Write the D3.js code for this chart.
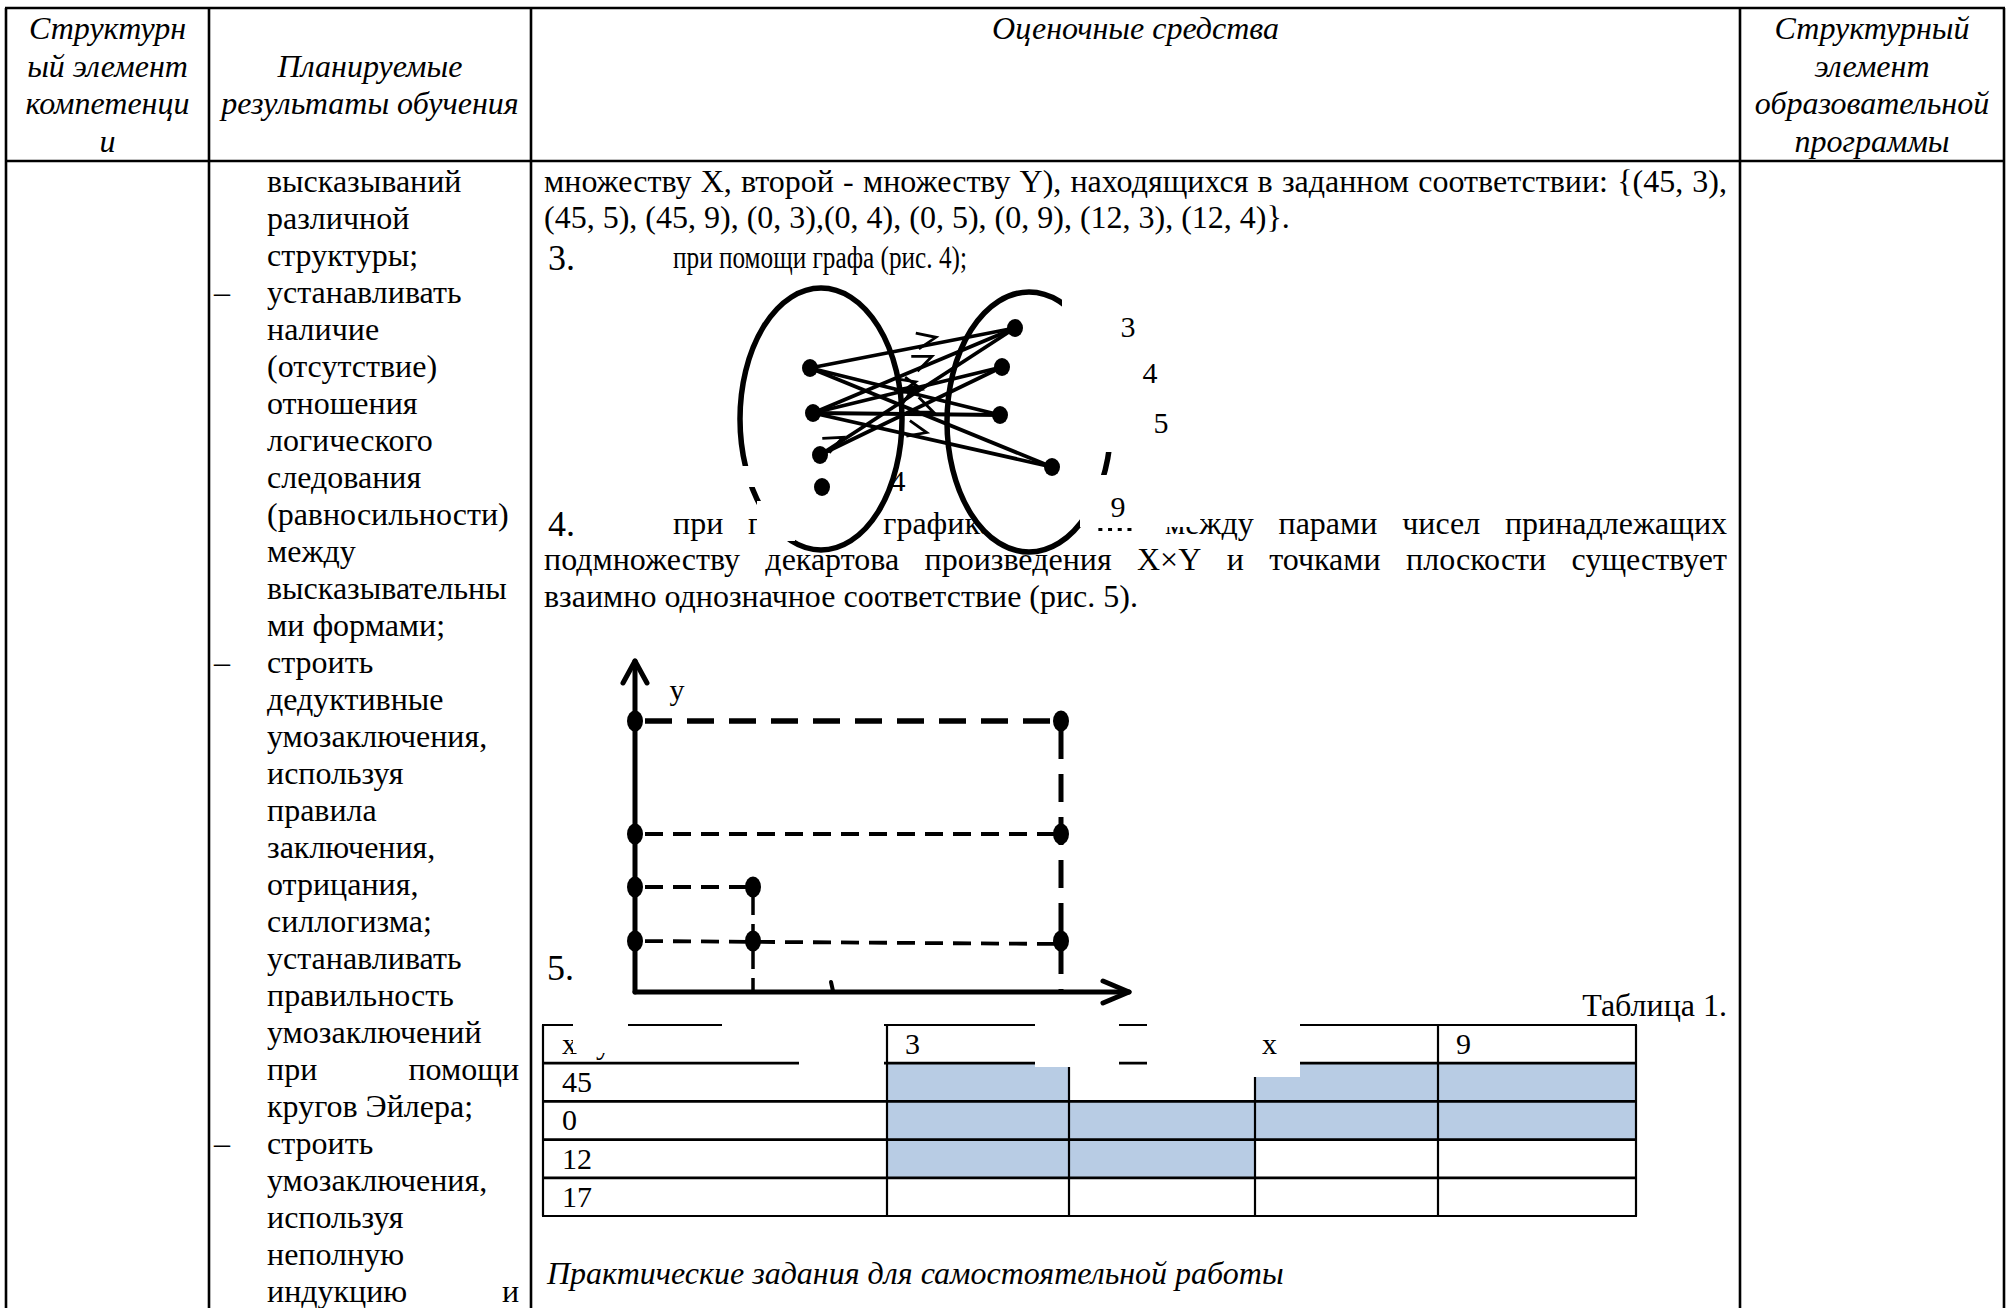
<!DOCTYPE html>
<html><head><meta charset="utf-8">
<script src="https://cdn.jsdelivr.net/npm/d3@7/dist/d3.min.js"></script>
<style>html,body{margin:0;padding:0;background:#fff;}svg{display:block}</style>
</head><body>
<svg id="c" width="2013" height="1308"></svg>
<script>
// ---------------- DATA ----------------
const headerCol1 = ["Структурн", "ый элемент", "компетенци", "и"];
const headerCol2 = ["Планируемые", "результаты обучения"];
const headerCol3 = ["Оценочные средства"];
const headerCol4 = ["Структурный", "элемент", "образовательной", "программы"];
const skillLines = [
  "высказываний", "различной", "структуры;", "–|устанавливать", "наличие", "(отсутствие)",
  "отношения", "логического", "следования", "(равносильности)", "между", "высказывательны",
  "ми формами;", "–|строить", "дедуктивные", "умозаключения,", "используя", "правила",
  "заключения,", "отрицания,", "силлогизма;", "устанавливать", "правильность", "умозаключений",
  "=при помощи", "кругов Эйлера;", "–|строить", "умозаключения,", "используя", "неполную",
  "=индукцию и"
];
const para1 = "множеству X, второй - множеству Y), находящихся в заданном соответствии: {(45, 3),";
const para2 = "(45, 5), (45, 9), (0, 3),(0, 4), (0, 5), (0, 9), (12, 3), (12, 4)}.";
const item3 = ["3.", "при помощи графа (рис. 4);"];
const item4 = ["4.", "при помощи графика, так как между парами чисел принадлежащих"];
const hiddenWord4 = "как";
const para4b = "подмножеству декартова произведения X×Y и точками плоскости существует";
const para4c = "взаимно однозначное соответствие (рис. 5).";
const item5 = "5.";
const setX = [45, 0, 12, 17];
const setY = [3, 4, 5, 9];
const relation = [[45,3],[45,5],[45,9],[0,3],[0,4],[0,5],[0,9],[12,3],[12,4]];
const graphYLabels = ["3", "4", "5", "9"];
const graphXLabel = "4";
const axisYLabel = "y";
const axisXLabel = "x";
const tableCaption = "Таблица 1.";
const tableCorner = ["x", "y"];
const tableRowLabels = ["45", "0", "12", "17"];
const tableColLabels = ["3", "4", "5", "9"];
const footer = "Практические задания для самостоятельной работы";

// ---------------- LAYOUT ----------------
const W = 2013, H = 1308;
const FONT = "'Liberation Serif','Times New Roman',serif";
const svg = d3.select("#c");
svg.append("rect").attr("width", W).attr("height", H).attr("fill", "#fff");

function txt(g, s, x, y, o = {}) {
  const t = g.append("text").attr("x", x).attr("y", y).text(s)
    .attr("font-family", FONT).attr("font-size", o.fs || 32)
    .attr("font-style", o.it ? "italic" : "normal")
    .attr("text-anchor", o.anchor || "start").attr("fill", "#000");
  if (o.len) t.attr("textLength", o.len).attr("lengthAdjust", "spacingAndGlyphs");
  return t;
}
function justify(g, s, x0, x1, y, o = {}) {
  const words = s.split(" ");
  const nodes = words.map(w => txt(g, w, 0, y, o));
  const widths = nodes.map(n => n.node().getComputedTextLength());
  const total = d3.sum(widths);
  const gap = words.length > 1 ? (x1 - x0 - total) / (words.length - 1) : 0;
  let x = x0;
  const out = [];
  nodes.forEach((n, i) => { n.attr("x", x); out.push({ w: words[i], x, width: widths[i], node: n }); x += widths[i] + gap; });
  return out;
}

// frame
const frameX = d3.scaleOrdinal().domain([0,1,2,3,4]).range([6, 209, 531, 1740, 2004]);
const topY = 8, headY = 161;
const frame = svg.append("g").attr("stroke", "#000").attr("stroke-width", 2.6);
frame.append("line").attr("x1", frameX(0) - 1).attr("x2", frameX(4) + 1).attr("y1", topY).attr("y2", topY);
frame.append("line").attr("x1", frameX(0)).attr("x2", frameX(4)).attr("y1", headY).attr("y2", headY);
frame.selectAll("line.v").data([0,1,2,3,4]).enter().append("line").attr("class", "v")
  .attr("x1", d => frameX(d)).attr("x2", d => frameX(d)).attr("y1", topY).attr("y2", H);

// header
const hdr = svg.append("g");
const hLine = d3.scaleLinear().domain([0, 1]).range([39, 76.5]);
headerCol1.forEach((s, i) => txt(hdr, s, (frameX(0) + frameX(1)) / 2, hLine(i), { it: 1, anchor: "middle" }));
headerCol2.forEach((s, i) => txt(hdr, s, (frameX(1) + frameX(2)) / 2, hLine(i + 1), { it: 1, anchor: "middle" }));
headerCol3.forEach((s, i) => txt(hdr, s, (frameX(2) + frameX(3)) / 2, hLine(i), { it: 1, anchor: "middle" }));
headerCol4.forEach((s, i) => txt(hdr, s, (frameX(3) + frameX(4)) / 2, hLine(i), { it: 1, anchor: "middle" }));

// left column
const lc = svg.append("g");
const lineY = d3.scaleLinear().domain([0, 1]).range([192, 229]);
skillLines.forEach((s, i) => {
  const y = lineY(i);
  if (s.startsWith("–|")) { txt(lc, "–", 214, y); txt(lc, s.slice(2), 267, y); }
  else if (s.startsWith("=")) { justify(lc, s.slice(1), 267, 519, y); }
  else txt(lc, s, 267, y);
});

// middle column text
const mc = svg.append("g");
justify(mc, para1, 544, 1727, 192);
txt(mc, para2, 544, 228);
txt(mc, item3[0], 548, 270, { fs: 36 });
txt(mc, item3[1], 673, 268, { len: 294 });
txt(mc, item4[0], 548, 536, { fs: 36 });
const w4 = justify(mc, item4[1], 673, 1727, 534);
// the word mostly hidden under the label box: keep only its bottom sliver as marks
const hid = w4.filter(d => d.w === hiddenWord4).pop();
let hidBox = null;
if (hid) { hid.node.remove(); hidBox = { x: hid.x, w: hid.width }; }
justify(mc, para4b, 544, 1727, 570);
txt(mc, para4c, 544, 607);

// ---------------- FIGURE 4 (graph) ----------------
const g4 = svg.append("g");
const lx = d3.scaleOrdinal().domain(setX).range([810, 813, 820, 822]);
const ly = d3.scaleOrdinal().domain(setX).range([368, 413, 455, 487]);
const rx = d3.scaleOrdinal().domain(setY).range([1015, 1002, 1000, 1052]);
const ry = d3.scaleOrdinal().domain(setY).range([328, 367, 415, 467]);
const ellipses = [{ cx: 821, cy: 419, rx: 81, ry: 131 }, { cx: 1029, cy: 422, rx: 82, ry: 130 }];
g4.selectAll("ellipse.set").data(ellipses).enter().append("ellipse").attr("class", "set")
  .attr("cx", d => d.cx).attr("cy", d => d.cy).attr("rx", d => d.rx).attr("ry", d => d.ry)
  .attr("fill", "#fff").attr("stroke", "#000").attr("stroke-width", 5.5);
[[726, 466, 34, 21], [757, 501, 38, 40]].forEach(r =>
  g4.append("rect").attr("x", r[0]).attr("y", r[1]).attr("width", r[2]).attr("height", r[3]).attr("fill", "#fff"));
const chevT = { "45-3": 0.62, "0-3": 0.6, "12-3": 0.5, "45-5": 0.58, "45-9": 0.5, "0-4": 0.55, "0-9": 0.47, "12-4": 0.14, "0-5": null };
relation.forEach(([a, b]) => {
  const x1 = lx(a), y1 = ly(a), x2 = rx(b), y2 = ry(b);
  g4.append("line").attr("x1", x1).attr("y1", y1).attr("x2", x2).attr("y2", y2)
    .attr("stroke", "#000").attr("stroke-width", 3.8);
  const t = chevT[a + "-" + b];
  if (t != null) {
    const px = x1 + t * (x2 - x1), py = y1 + t * (y2 - y1);
    const L = Math.hypot(x2 - x1, y2 - y1), ux = (x2 - x1) / L, uy = (y2 - y1) / L;
    const ox = -uy, oy = ux, back = 19, wing = 8, sh = -6;
    const cx = px + ox * sh, cy = py + oy * sh;
    g4.append("path").attr("d",
      `M${cx - back * ux + wing * ox},${cy - back * uy + wing * oy}L${cx},${cy}L${cx - back * ux - wing * ox},${cy - back * uy - wing * oy}`)
      .attr("fill", "none").attr("stroke", "#000").attr("stroke-width", 2.8);
  }
});
setX.forEach(a => g4.append("ellipse").attr("cx", lx(a)).attr("cy", ly(a)).attr("rx", 8).attr("ry", 9).attr("fill", "#000"));
setY.forEach(b => g4.append("ellipse").attr("cx", rx(b)).attr("cy", ry(b)).attr("rx", 8).attr("ry", 9).attr("fill", "#000"));
[[1062, 284, 140, 168], [1080, 475, 120, 52]].forEach(r =>
  g4.append("rect").attr("x", r[0]).attr("y", r[1]).attr("width", r[2]).attr("height", r[3]).attr("fill", "#fff"));
if (hidBox) {
  d3.range(4).forEach(k => g4.append("rect").attr("x", hidBox.x + 3 + k * (hidBox.w - 6) / 4).attr("y", 528)
    .attr("width", 4).attr("height", 3).attr("fill", "#000"));
}
const labX = d3.scaleOrdinal().domain(graphYLabels).range([1128, 1150, 1161, 1118]);
const labY = d3.scaleOrdinal().domain(graphYLabels).range([337, 383, 433, 517]);
graphYLabels.forEach(s => txt(g4, s, labX(s), labY(s), { fs: 30, anchor: "middle" }));
txt(g4, graphXLabel, 898, 491, { fs: 30, anchor: "middle" });

// ---------------- FIGURE 5 (plot) ----------------
const g5 = svg.append("g");
const px = d3.scaleLinear().domain([0, 12, 45]).range([635, 753, 1061]);
const py = d3.scaleLinear().domain([3, 4, 5, 9]).range([941, 887, 834, 721]);
const ox0 = 635, oy0 = 992, yTip = 661, xTip = 1129;
const thick = v => v === 9 || v === 45;
setY.forEach(v => {
  const xs = relation.filter(p => p[1] === v).map(p => p[0]);
  g5.append("line").attr("x1", px(0)).attr("x2", px(d3.max(xs))).attr("y1", py(v)).attr("y2", py(v) + (v === 3 ? 3 : 0))
    .attr("stroke", "#000").attr("stroke-width", thick(v) ? 5.5 : 3.8)
    .attr("stroke-dasharray", thick(v) ? "27 15" : "18 10").attr("stroke-dashoffset", -10);
});
setX.filter(v => v !== 0).forEach(v => {
  const ys = relation.filter(p => p[0] === v).map(p => p[1]);
  if (!ys.length) return;
  g5.append("line").attr("x1", px(v)).attr("x2", px(v)).attr("y1", py(d3.max(ys))).attr("y2", oy0)
    .attr("stroke", "#000").attr("stroke-width", thick(v) ? 5 : 3.5)
    .attr("stroke-dasharray", thick(v) ? "28 15" : "18 9").attr("stroke-dashoffset", -10);
});
const ax = g5.append("g").attr("stroke", "#000").attr("stroke-width", 5).attr("fill", "none").attr("stroke-linecap", "round");
ax.append("line").attr("x1", ox0).attr("x2", ox0).attr("y1", oy0).attr("y2", yTip);
ax.append("line").attr("x1", ox0).attr("x2", xTip).attr("y1", oy0).attr("y2", oy0);
ax.append("path").attr("d", `M${ox0 - 12},${yTip + 22}L${ox0},${yTip}L${ox0 + 12},${yTip + 22}`).attr("stroke-linejoin", "round");
ax.append("path").attr("d", `M${xTip - 26},${oy0 - 11}L${xTip},${oy0}L${xTip - 26},${oy0 + 11}`).attr("stroke-linejoin", "round");
ax.append("line").attr("x1", 831).attr("x2", 833).attr("y1", 982).attr("y2", 991).attr("stroke-width", 4);
relation.forEach(([a, b]) => g5.append("ellipse").attr("cx", px(a)).attr("cy", py(b)).attr("rx", 8).attr("ry", 10.5).attr("fill", "#000"));
txt(g5, axisYLabel, 677, 700, { fs: 30, anchor: "middle" });
txt(g5, item5, 547, 980, { fs: 36 });

// ---------------- TABLE 1 ----------------
const gt = svg.append("g");
txt(gt, tableCaption, 1727, 1016, { anchor: "end" });
const colEdges = [543, 887, 1069, 1255, 1438, 1636];
const cx0 = d3.scaleOrdinal().domain(["h"].concat(tableColLabels)).range(colEdges.slice(0, 5));
const cx1 = d3.scaleOrdinal().domain(["h"].concat(tableColLabels)).range(colEdges.slice(1));
const rowY = d3.scaleBand().domain(["h"].concat(tableRowLabels)).range([1025, 1216]);
relation.forEach(([a, b]) => {
  gt.append("rect").attr("x", cx0(String(b))).attr("y", rowY(String(a)))
    .attr("width", cx1(String(b)) - cx0(String(b))).attr("height", rowY.bandwidth()).attr("fill", "#b8cce4");
});
const grid = gt.append("g").attr("stroke", "#000").attr("stroke-width", 2.2);
["h"].concat(tableRowLabels).forEach(r => grid.append("line").attr("x1", colEdges[0] - 1).attr("x2", colEdges[5] + 1).attr("y1", rowY(r)).attr("y2", rowY(r)).attr("stroke-width", r === "h" ? 2.2 : 2.8));
grid.append("line").attr("x1", colEdges[0] - 1).attr("x2", colEdges[5] + 1).attr("y1", 1216).attr("y2", 1216);
colEdges.forEach(x => grid.append("line").attr("x1", x).attr("x2", x).attr("y1", 1025).attr("y2", 1216));
const tb = v => rowY(v) + 29;
txt(gt, tableCorner[0], 562, tb("h"), { fs: 30 });
txt(gt, tableCorner[1], 596, tb("h"), { fs: 30 });
tableColLabels.forEach(c => txt(gt, c, cx0(c) + 18, tb("h"), { fs: 30 }));
tableRowLabels.forEach(r => txt(gt, r, 562, tb(r), { fs: 30 }));
[[573, 1012, 55, 41], [722, 1012, 162, 20], [799, 1012, 85, 54], [1035, 1012, 84, 55], [1147, 1012, 153, 65]].forEach(r =>
  gt.append("rect").attr("x", r[0]).attr("y", r[1]).attr("width", r[2]).attr("height", r[3]).attr("fill", "#fff"));
txt(gt, axisXLabel, 1262, tb("h"), { fs: 30 });

txt(svg, footer, 547, 1284, { it: 1 });
</script>
</body></html>
